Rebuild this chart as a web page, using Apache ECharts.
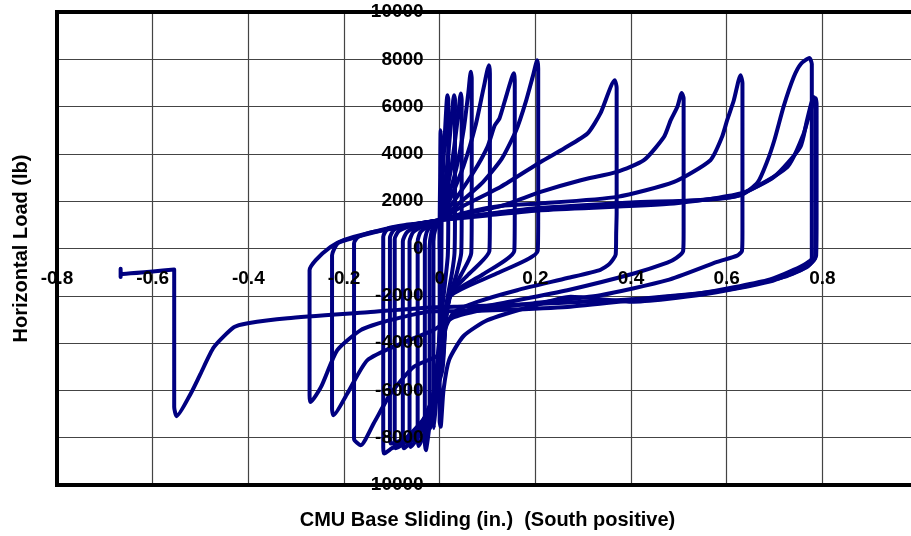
<!DOCTYPE html>
<html>
<head>
<meta charset="utf-8">
<script src="https://cdn.jsdelivr.net/npm/echarts@6/dist/echarts.min.js"></script>
<style>
html,body{margin:0;padding:0;background:#fff;}
#chart{width:911px;height:536px;}
</style>
</head>
<body>
<div id="chart"></div>
<script>
// Tick values
const xTicks = [-0.8, -0.6, -0.4, -0.2, 0, 0.2, 0.4, 0.6, 0.8, 1.0];
const yTicks = [-10000, -8000, -6000, -4000, -2000, 0, 2000, 4000, 6000, 8000, 10000];

// Hysteresis cycles: [slip (in.), load (lb)]
const cycle1 = [[0,0],[0,1150],[0.001,3000],[0.002,5000],[0.004,4000],[0.004,1000],[0.003,-1500],[0,-3500],[-0.006,-6000],[-0.012,-7600],[-0.013,-7200],[-0.013,300],[-0.008,900],[0,1150]];
const cycle2 = [[0,1150],[0.005,2500],[0.01,4500],[0.014,6000],[0.016,6480],[0.018,6300],[0.018,1500],[0.017,-300],[0.012,-1300],[0.006,-2400],[0,-3600],[-0.008,-5500],[-0.015,-7000],[-0.019,-7600],[-0.021,-7300],[-0.021,0],[-0.017,700],[-0.01,1000],[0,1180]];
const cycle3 = [[0,1180],[0.008,2200],[0.018,4000],[0.026,5800],[0.030,6480],[0.032,6300],[0.032,1500],[0.031,-200],[0.026,-1000],[0.018,-1900],[0.01,-2800],[0.002,-4000],[-0.01,-5800],[-0.02,-7300],[-0.029,-8530],[-0.031,-8100],[-0.031,300],[-0.026,750],[-0.015,1000],[0,1200]];
const cycle4 = [[0,1200],[0.01,2000],[0.025,3500],[0.036,5200],[0.042,6300],[0.044,6550],[0.046,6300],[0.046,1500],[0.045,-200],[0.035,-1100],[0.023,-1900],[0.012,-3000],[0.003,-4500],[-0.012,-6200],[-0.03,-7700],[-0.044,-8350],[-0.046,-8000],[-0.046,300],[-0.04,700],[-0.02,1000],[0,1200]];
const cycle5 = [[0,1200],[0.015,2000],[0.035,3400],[0.05,5000],[0.06,6600],[0.065,7470],[0.067,7200],[0.067,1500],[0.066,-200],[0.045,-1100],[0.023,-1900],[0.012,-3000],[0.002,-4600],[-0.015,-6300],[-0.04,-7800],[-0.061,-8390],[-0.063,-8100],[-0.063,300],[-0.055,700],[-0.03,1000],[0,1200]];
const cycle6 = [[0,1200],[0.02,2000],[0.05,3500],[0.075,5200],[0.092,6800],[0.103,7750],[0.105,7400],[0.105,1500],[0.104,-100],[0.06,-1100],[0.023,-1900],[0.012,-3100],[0.003,-4800],[-0.02,-6600],[-0.05,-7900],[-0.075,-8445],[-0.077,-8200],[-0.077,300],[-0.068,700],[-0.04,1000],[0,1200]];
const cycle7 = [[0,1200],[0.03,2000],[0.07,3200],[0.1,4300],[0.115,5200],[0.125,5500],[0.14,6500],[0.155,7410],[0.157,7100],[0.157,1500],[0.156,-100],[0.09,-1100],[0.023,-1950],[0.012,-3200],[0.004,-5000],[-0.025,-6900],[-0.06,-8000],[-0.092,-8445],[-0.094,-8200],[-0.094,400],[-0.085,750],[-0.05,1000],[0,1200]];
const cycle8 = [[0,1200],[0.04,1900],[0.09,2800],[0.13,3800],[0.16,5000],[0.18,6200],[0.195,7300],[0.204,7960],[0.206,7600],[0.206,1500],[0.205,-100],[0.12,-1050],[0.023,-2000],[0.012,-3300],[0.005,-5200],[-0.03,-7100],[-0.07,-8000],[-0.102,-8250],[-0.104,-8000],[-0.104,450],[-0.095,800],[-0.06,1000],[0,1200]];
const cycle9 = [[0,1150],[0.04,1700],[0.127,2600],[0.211,3660],[0.26,4230],[0.309,4860],[0.336,5710],[0.366,7115],[0.37,6800],[0.37,1500],[0.369,650],[0.368,-250],[0.355,-650],[0.336,-900],[0.267,-1250],[0.162,-1763],[0.08,-2250],[0.03,-2700],[0.012,-3400],[0.005,-5000],[-0.02,-6800],[-0.06,-8000],[-0.1,-8450],[-0.116,-8670],[-0.118,-8400],[-0.118,500],[-0.108,850],[-0.07,1000],[0,1150]];
const cycle10 = [[0,1200],[0.06,1500],[0.13,1800],[0.211,2393],[0.295,2888],[0.371,3240],[0.427,3733],[0.469,4718],[0.483,5426],[0.497,5990],[0.506,6580],[0.51,6350],[0.51,700],[0.509,-100],[0.495,-400],[0.476,-600],[0.406,-1057],[0.267,-1763],[0.127,-2326],[0.05,-2650],[0.015,-3100],[0.002,-4440],[-0.054,-5000],[-0.102,-6120],[-0.138,-7400],[-0.165,-8316],[-0.179,-8050],[-0.179,224],[-0.17,500],[-0.12,800],[-0.06,1000],[0,1200]];
const cycle11 = [[0,1200],[0.06,1550],[0.127,1800],[0.211,1903],[0.371,2182],[0.49,2816],[0.566,3733],[0.590,4700],[0.601,5426],[0.615,6270],[0.629,7330],[0.633,7000],[0.633,700],[0.632,-100],[0.622,-300],[0.58,-566],[0.476,-1340],[0.336,-1975],[0.197,-2312],[0.1,-2550],[0.03,-2900],[-0.013,-3450],[-0.081,-4017],[-0.151,-4720],[-0.193,-6130],[-0.222,-7050],[-0.225,-6800],[-0.225,-285],[-0.213,224],[-0.18,450],[-0.1,850],[0,1200]];
const cycle12 = [[0,1200],[0.1,1450],[0.211,1691],[0.49,1970],[0.629,2253],[0.665,2800],[0.685,3700],[0.700,4600],[0.719,6000],[0.740,7240],[0.755,7800],[0.773,8050],[0.778,7800],[0.778,1500],[0.778,-400],[0.754,-778],[0.685,-1340],[0.545,-1890],[0.405,-2185],[0.267,-2470],[0.127,-2600],[0.03,-2650],[-0.013,-2650],[-0.117,-3100],[-0.165,-3453],[-0.214,-4298],[-0.248,-5853],[-0.27,-6486],[-0.272,-6200],[-0.272,-920],[-0.259,-493],[-0.228,70],[-0.201,350],[-0.15,650],[-0.08,911],[0,1197]];
const cycle13 = [[0,1200],[0.1,1400],[0.211,1620],[0.49,1903],[0.629,2325],[0.699,3028],[0.754,4295],[0.768,5426],[0.782,6410],[0.786,6200],[0.786,1500],[0.785,-400],[0.76,-850],[0.69,-1400],[0.55,-1950],[0.4,-2250],[0.274,-2045],[0.2,-2400],[0.1,-3030],[0.05,-3700],[0.02,-4700],[0.008,-5990],[0.002,-7540],[0.0,-7300],[0.0,-2000],[0,1200]];
const cycle14 = [[0,1200],[0.2,1700],[0.4,1950],[0.615,2182],[0.727,3450],[0.76,4800],[0.775,5800],[0.786,6350],[0.788,6100],[0.788,1500],[0.787,-300],[0.77,-750],[0.72,-1200],[0.6,-1750],[0.4,-2150],[0.2,-2350],[0.05,-2450],[-0.013,-2482],[-0.15,-2693],[-0.318,-2947],[-0.401,-3158],[-0.43,-3327],[-0.472,-4173],[-0.50,-5300],[-0.52,-6118],[-0.55,-7090],[-0.555,-6700],[-0.555,-890],[-0.666,-1080],[-0.667,-860],[-0.667,-1200]];

const cycles = [cycle1, cycle2, cycle3, cycle4, cycle5, cycle6, cycle7, cycle8, cycle9, cycle10, cycle11, cycle12, cycle13, cycle14];

const FONT = 'Liberation Sans, Arial, sans-serif';
const lblStyle = { fontFamily: FONT, fontWeight: 'bold', fontSize: 19, color: '#000' };
const nameStyle = { fontFamily: FONT, fontWeight: 'bold', fontSize: 20, color: '#000' };
const fmtX = v => { const t = xTicks.find(t => Math.abs(t - v) < 1e-9); return t === undefined ? '' : String(t); };
const fmtY = v => { const t = yTicks.find(t => Math.abs(t - v) < 1e-6); return t === undefined ? '' : String(t); };

const xBase = { type: 'value', min: xTicks[0], max: xTicks[xTicks.length - 1], interval: 0.2 };
const yBase = { type: 'value', min: yTicks[0], max: yTicks[yTicks.length - 1], interval: 2000 };
const gridStroke = { color: '#444', width: 1.2 };

// plot box
const G = { left: 57, top: 12, width: 861, height: 473 };
// axes cross at zero: shift label axes into the plot
const xZeroPx = G.width * (0 - xBase.min) / (xBase.max - xBase.min);
const yZeroPx = G.height * (yBase.max - 0) / (yBase.max - yBase.min);

const chart = echarts.init(document.getElementById('chart'), null, { renderer: 'canvas' });
chart.setOption({
  animation: false,
  backgroundColor: '#fff',
  grid: Object.assign({ show: true, z: 1, borderColor: '#000', borderWidth: 4, backgroundColor: 'transparent', containLabel: false, outerBoundsMode: 'none' }, G),
  xAxis: [
    Object.assign({}, xBase, {
      position: 'bottom', offset: -(G.height - yZeroPx), z: 10,
      axisLine: { show: false, onZero: false },
      axisTick: { show: false },
      axisLabel: Object.assign({ show: true, margin: 21, formatter: fmtX }, lblStyle),
      splitLine: { show: false },
      name: 'CMU Base Sliding (in.)  (South positive)', nameLocation: 'middle', nameGap: 262,
      nameTextStyle: nameStyle
    }),
    Object.assign({}, xBase, {
      position: 'top', z: 0,
      axisLine: { show: false, onZero: false }, axisTick: { show: false }, axisLabel: { show: false },
      splitLine: { show: true, lineStyle: gridStroke }
    })
  ],
  yAxis: [
    Object.assign({}, yBase, {
      position: 'left', offset: -xZeroPx, z: 10,
      axisLine: { show: false, onZero: false },
      axisTick: { show: false },
      axisLabel: Object.assign({ show: true, margin: 16, formatter: fmtY }, lblStyle),
      splitLine: { show: false },
      name: 'Horizontal Load (lb)', nameLocation: 'middle', nameGap: 408,
      nameTextStyle: nameStyle
    }),
    Object.assign({}, yBase, {
      position: 'right', z: 0,
      axisLine: { show: false, onZero: false }, axisTick: { show: false }, axisLabel: { show: false },
      splitLine: { show: true, lineStyle: gridStroke }
    })
  ],
  series: cycles.map(c => ({
    type: 'line', xAxisIndex: 0, yAxisIndex: 0, data: c,
    showSymbol: false, symbol: 'none', smooth: 0.2, smoothMonotone: 'none', z: 2,
    lineStyle: { color: '#000080', width: 4, cap: 'round', join: 'round' }
  }))
});
</script>
</body>
</html>
